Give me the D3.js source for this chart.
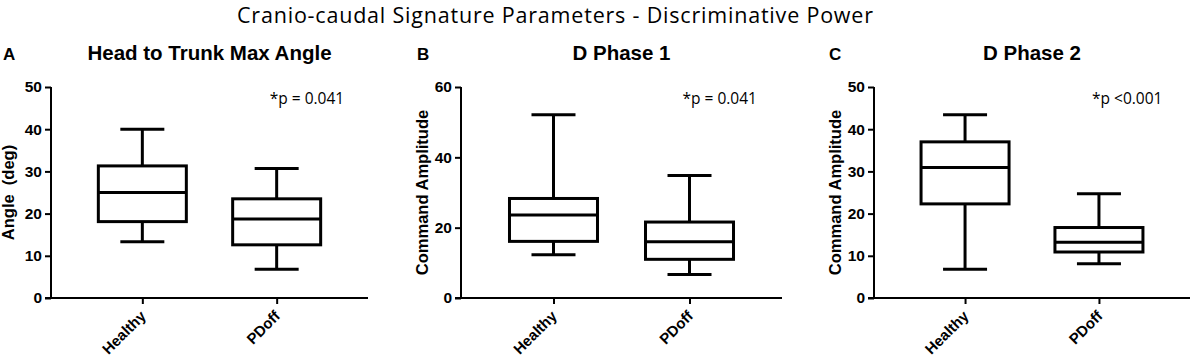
<!DOCTYPE html>
<html lang="en">
  <head>
    <meta charset="UTF-8" />
    <title>Cranio-caudal Signature Parameters</title>
    <style>
      body { margin: 0; background: #fff; }
      .box { fill: none; stroke: black; stroke-width: 3; }
      .whisker { stroke: black; stroke-width: 3; }
      .axis path, .axis line { stroke: black; stroke-width: 2; }
    </style>
  </head>
  <body>
    <svg id="container" width="1199" height="364"></svg>
  </body>
  <script src="https://cdn.jsdelivr.net/npm/d3@7"></script>
  <script>
    // groups on the x axis
    let groups = ["Healthy", "PDoff"];

    // panel titles, letters, y labels, p values
    let panelLetters = ["A", "B", "C"];
    let panelTitles = ["Head to Trunk Max Angle", "D Phase 1", "D Phase 2"];
    let yLabels = ["Angle  (deg)", "Command Amplitude", "Command Amplitude"];
    let pTexts = ["*p = 0.041", "*p = 0.041", "*p <0.001"];
    let yMax = [50, 60, 50];
    let yTicks = [[0, 10, 20, 30, 40, 50], [0, 20, 40, 60], [0, 10, 20, 30, 40, 50]];

    // box stats per panel: [min, q1, median, q3, max] for Healthy, PDoff
    let headTrunk = [[13.3, 18.1, 25.0, 31.3, 40.0], [6.8, 12.6, 18.7, 23.5, 30.7]];
    let dPhase1 = [[12.3, 16.1, 23.6, 28.3, 52.1], [6.7, 11.0, 16.0, 21.6, 34.8]];
    let dPhase2 = [[6.8, 22.3, 30.9, 37.0, 43.4], [8.1, 10.9, 13.2, 16.7, 24.7]];
    let allStats = [headTrunk, dPhase1, dPhase2];

    let svg = d3.select("#container");
    let boldFont = "'Liberation Sans', Arial, sans-serif";

    // main title
    svg.append("text")
      .attr("x", 555).attr("y", 23)
      .attr("text-anchor", "middle")
      .attr("textLength", 636)
      .attr("lengthAdjust", "spacing")
      .style("font-family", "'Open Sans', sans-serif")
      .style("font-size", "21.5px")
      .text("Cranio-caudal Signature Parameters - Discriminative Power");

    let panelLeft = [51, 461, 874];
    let plotWidth = [317, 321, 316];
    let letterX = [3, 417, 829];
    let labelOffset = [-37, -33, -33];
    let plotTop = 87;
    let plotHeight = 211;

    for (let i = 0; i < 3; i++) {
      let W = plotWidth[i];
      let g = svg.append("g").attr("transform", "translate(" + panelLeft[i] + "," + plotTop + ")");

      let y = d3.scaleLinear().domain([0, yMax[i]]).range([plotHeight, 0]);
      let x = d3.scalePoint().domain(groups).range([0, W]).padding(0.68);

      // y axis
      let ya = g.append("g").attr("class", "axis")
        .call(d3.axisLeft(y).tickValues(yTicks[i]).tickSize(6).tickSizeOuter(0).tickPadding(3));
      ya.select(".domain").attr("d", "M0," + (plotHeight + 1) + "V0");
      ya.selectAll("text")
        .style("font-family", boldFont).style("font-weight", "bold").style("font-size", "15.5px");

      // x axis
      let xa = g.append("g").attr("class", "axis")
        .attr("transform", "translate(0," + plotHeight + ")")
        .call(d3.axisBottom(x).tickSize(6).tickSizeOuter(0));
      xa.select(".domain").attr("d", "M-6,0H" + W);
      xa.selectAll("text")
        .attr("text-anchor", "end")
        .attr("dy", null).attr("y", 0)
        .attr("transform", "translate(4,19) rotate(-45)")
        .style("font-family", boldFont).style("font-weight", "bold").style("font-size", "15px");

      // boxes
      let bw = 88, cw = 44;
      let stats = allStats[i];
      groups.forEach((grp, j) => {
        let s = stats[j];
        let cx = x(grp);
        let bg = g.append("g");
        bg.append("line").attr("class", "whisker")
          .attr("x1", cx).attr("x2", cx).attr("y1", y(s[4])).attr("y2", y(s[3]));
        bg.append("line").attr("class", "whisker")
          .attr("x1", cx).attr("x2", cx).attr("y1", y(s[1])).attr("y2", y(s[0]));
        bg.append("line").attr("class", "whisker")
          .attr("x1", cx - cw / 2).attr("x2", cx + cw / 2).attr("y1", y(s[4])).attr("y2", y(s[4]));
        bg.append("line").attr("class", "whisker")
          .attr("x1", cx - cw / 2).attr("x2", cx + cw / 2).attr("y1", y(s[0])).attr("y2", y(s[0]));
        bg.append("rect").attr("class", "box")
          .attr("x", cx - bw / 2).attr("width", bw)
          .attr("y", y(s[3])).attr("height", y(s[1]) - y(s[3]));
        bg.append("line").attr("class", "whisker")
          .attr("x1", cx - bw / 2).attr("x2", cx + bw / 2).attr("y1", y(s[2])).attr("y2", y(s[2]));
      });

      // y label
      g.append("text")
        .attr("transform", "translate(" + labelOffset[i] + "," + (plotHeight / 2) + ") rotate(-90)")
        .attr("text-anchor", "middle")
        .style("white-space", "pre")
        .style("font-family", boldFont)
        .style("font-weight", "bold")
        .style("font-size", "16.5px")
        .text(yLabels[i]);

      // panel title
      g.append("text")
        .attr("x", W / 2).attr("y", 60 - plotTop)
        .attr("text-anchor", "middle")
        .style("font-family", boldFont)
        .style("font-weight", "bold")
        .style("font-size", "20.5px")
        .text(panelTitles[i]);

      // panel letter
      svg.append("text")
        .attr("x", letterX[i]).attr("y", 60)
        .style("font-family", boldFont)
        .style("font-weight", "bold")
        .style("font-size", "17px")
        .text(panelLetters[i]);

      // p value
      g.append("text")
        .attr("x", W * 0.69).attr("y", 104 - plotTop)
        .style("font-family", "'Open Sans', sans-serif")
        .style("font-size", "15.5px")
        .text(pTexts[i]);
    }
  </script>
</html>
